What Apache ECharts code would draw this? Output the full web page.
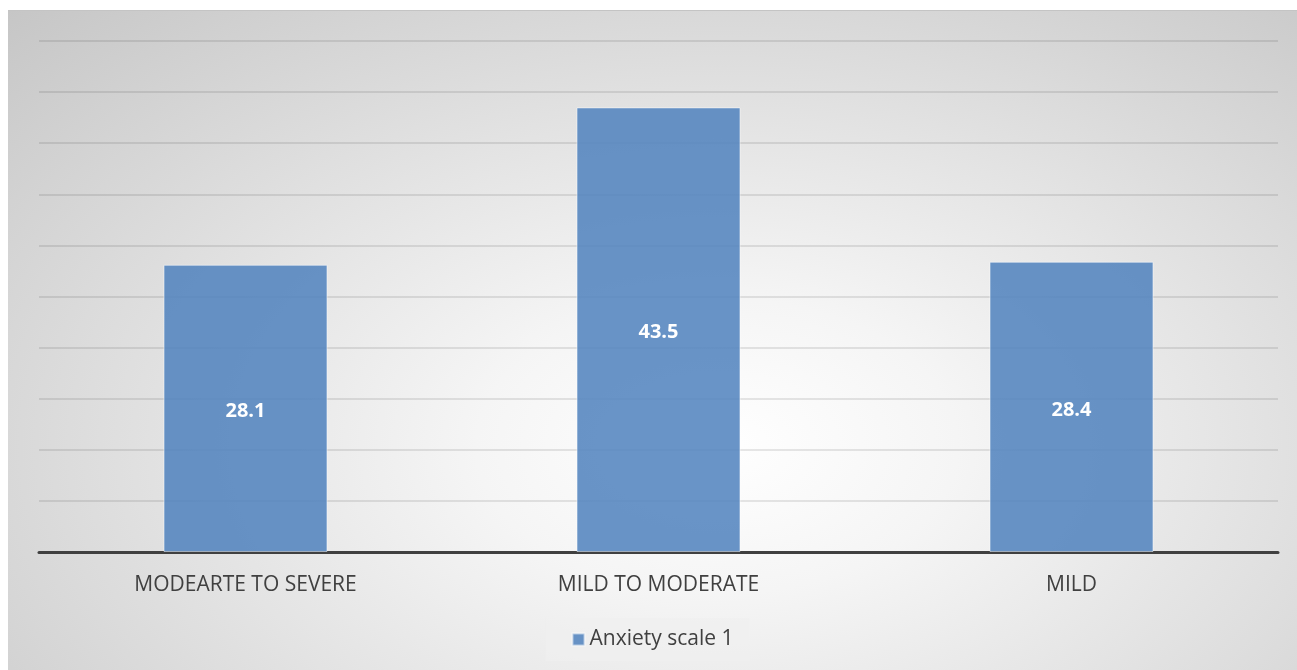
<!DOCTYPE html>
<html>
<head>
<meta charset="utf-8">
<script src="https://cdn.jsdelivr.net/npm/echarts@6/dist/echarts.min.js"></script>
<style>
  html, body { margin: 0; padding: 0; background: #fff; }
  #chart {
    position: absolute; left: 8px; top: 10px; width: 1289px; height: 660px;
    border-top: 1px solid #c4c4c4; box-sizing: border-box;
    background: radial-gradient(ellipse farthest-corner at 55% 66%, #ffffff 0%, #f5f5f5 24%, #e2e2e2 55%, #c6c6c6 100%);
  }
</style>
</head>
<body>
<div id="chart"></div>
<script>
// anxiety levels, percent
const categories = ['MODEARTE TO SEVERE', 'MILD TO MODERATE', 'MILD']
const seriesName = 'Anxiety scale 1'
const values = [28.1, 43.5, 28.4]

const chart = echarts.init(document.getElementById('chart'))

const option = {
  backgroundColor: 'transparent',
  textStyle: { fontFamily: '"Open Sans", sans-serif' },
  grid: { left: 31, right: 19, top: 30, bottom: 118 },
  legend: {
    bottom: 9,
    left: 'center',
    data: [seriesName],
    itemWidth: 12,
    itemHeight: 12,
    itemGap: 6,
    icon: 'rect',
    backgroundColor: 'rgba(240,240,240,0.7)',
    padding: [11, 16, 11, 26],
    textStyle: { color: '#404040', fontSize: 21 }
  },
  xAxis: {
    type: 'category',
    data: categories,
    axisTick: { show: false },
    axisLine: { lineStyle: { color: '#404040', width: 3 } },
    axisLabel: { color: '#404040', fontSize: 21, margin: 23 }
  },
  yAxis: {
    type: 'value',
    min: 0,
    max: 50,
    interval: 5,
    axisLabel: { show: false },
    axisLine: { show: false },
    axisTick: { show: false },
    splitLine: { lineStyle: { color: 'rgba(0,0,0,0.13)', width: 1.5 } }
  },
  series: [
    {
      name: seriesName,
      type: 'bar',
      data: values,
      barWidth: '39.7%',
      itemStyle: {
        color: 'rgba(79,129,189,0.85)',
        borderColor: 'rgba(255,255,255,0.5)',
        borderWidth: 1
      },
      label: {
        show: true,
        position: 'inside',
        offset: [0, 3],
        color: '#ffffff',
        fontSize: 20,
        fontWeight: 'bold'
      }
    }
  ]
}

chart.setOption(option)
</script>
</body>
</html>
